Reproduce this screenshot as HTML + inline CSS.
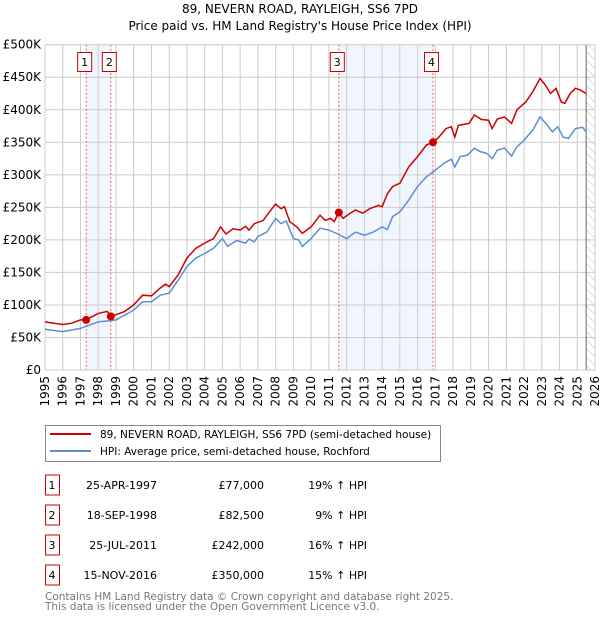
<!DOCTYPE html>
<html><head><meta charset="utf-8">
<style>
body{margin:0;background:#fff;font-family:"DejaVu Sans","Liberation Sans",sans-serif;}
svg text{font-family:"DejaVu Sans","Liberation Sans",sans-serif;}
</style></head>
<body>
<svg id="chart" width="600" height="620" viewBox="0 0 600 620" xmlns="http://www.w3.org/2000/svg">
<defs>
<pattern id="hatch" patternUnits="userSpaceOnUse" width="6" height="6" patternTransform="rotate(-45)">
<line x1="0" y1="0" x2="0" y2="6" stroke="#bbb" stroke-width="1"/>
</pattern>
</defs>
<text x="300" y="13" text-anchor="middle" font-size="12">89, NEVERN ROAD, RAYLEIGH, SS6 7PD</text>
<text x="300" y="30" text-anchor="middle" font-size="12">Price paid vs. HM Land Registry's House Price Index (HPI)</text>
<g id="plot"></g>
<g>
<rect x="45.5" y="425.5" width="395" height="36" fill="#fff" stroke="#888"/>
<line x1="50" y1="434" x2="91" y2="434" stroke="#cc0000" stroke-width="2"/>
<text x="100" y="438" font-size="10.5">89, NEVERN ROAD, RAYLEIGH, SS6 7PD (semi-detached house)</text>
<line x1="50" y1="451" x2="91" y2="451" stroke="#5b8fd0" stroke-width="2"/>
<text x="100" y="455" font-size="10.5">HPI: Average price, semi-detached house, Rochford</text>
</g>
<g id="table" font-size="11"></g>
<text x="45" y="600" font-size="10.5" fill="#777">Contains HM Land Registry data © Crown copyright and database right 2025.</text>
<text x="45" y="610" font-size="10.5" fill="#777">This data is licensed under the Open Government Licence v3.0.</text>
</svg>
<script>
const hpiYears=[1995,1996,1997,1997.5,1998,1998.7,1999,2000,2000.5,2001,2001.5,2002,2002.5,2003,2003.5,2004,2004.5,2005,2005.3,2005.8,2006.3,2006.5,2006.8,2007,2007.5,2008,2008.3,2008.6,2009,2009.3,2009.5,2010,2010.5,2011,2011.5,2012,2012.5,2013,2013.5,2014,2014.3,2014.6,2015,2015.5,2016,2016.5,2016.9,2017.5,2017.9,2018.1,2018.4,2018.8,2019.2,2019.5,2019.9,2020.2,2020.5,2020.9,2021.3,2021.6,2022,2022.5,2022.9,2023.3,2023.6,2023.9,2024.2,2024.5,2024.9,2025.3,2025.5];
const hpiValues=[62.5,59,64,69,74,76,77,92,105,105,115,118,138,159,172,179,187,202,190,199,195,201,197,205,212,233,225,229,202,200,190,202,218,215,209,202,212,207,212,220,216,236,243,261,282,297,305,318,324,312,328,330,341,336,333,325,338,341,329,343,353,369,389,377,366,374,358,356,371,373,366];
const priceYears=[1995,1995.5,1996,1996.5,1997,1997.3,1998,1998.5,1998.7,1999,1999.5,2000,2000.5,2001,2001.5,2001.8,2002,2002.5,2003,2003.5,2004,2004.5,2004.9,2005.2,2005.6,2006,2006.3,2006.5,2006.8,2007.3,2007.6,2008,2008.3,2008.5,2008.8,2009.2,2009.5,2010,2010.5,2010.8,2011.1,2011.3,2011.55,2011.8,2012.2,2012.5,2012.9,2013.3,2013.8,2014,2014.3,2014.6,2015,2015.5,2016,2016.5,2016.87,2017.2,2017.6,2017.9,2018.1,2018.3,2018.9,2019.2,2019.6,2020,2020.2,2020.5,2020.9,2021.3,2021.6,2022.1,2022.5,2022.9,2023.2,2023.5,2023.8,2024.1,2024.3,2024.6,2024.9,2025.2,2025.5];
const priceValues=[74,72,70,72,77,77,87,90,83.5,85,90,100,115,114,126,132,128,146,172,187,195,202,220,209,217,215,221,215,225,230,241,255,248,251,228,220,210,220,238,230,233,228,242,233,241,246,241,248,253,251,271,282,287,312,328,346,350,358,371,374,358,376,379,392,385,384,371,386,389,379,400,412,428,448,438,425,433,412,410,425,433,430,425];
const saleLabels=["1","2","3","4"];
const saleYears=[1997.32,1998.71,2011.56,2016.87];
const saleValues=[77,82.5,242,350];
const saleDates=["25-APR-1997","18-SEP-1998","25-JUL-2011","15-NOV-2016"];
const salePrices=["£77,000","£82,500","£242,000","£350,000"];
const saleHpi=["19% ↑ HPI","9% ↑ HPI","16% ↑ HPI","15% ↑ HPI"];
const yTicks=[0,50,100,150,200,250,300,350,400,450,500];
const yTickLabels=["£0","£50K","£100K","£150K","£200K","£250K","£300K","£350K","£400K","£450K","£500K"];
const xTicks=[1995,1996,1997,1998,1999,2000,2001,2002,2003,2004,2005,2006,2007,2008,2009,2010,2011,2012,2013,2014,2015,2016,2017,2018,2019,2020,2021,2022,2023,2024,2025,2026];
const dataEnd=2025.5;

const X0=45,X1=595,Y0=370,Y1=44.7;
const xs=y=>X0+(y-1995)/(2026-1995)*(X1-X0);
const ys=v=>Y0-v/500*(Y0-Y1);
const NS="http://www.w3.org/2000/svg";
const plot=document.getElementById('plot');
function mk(tag,attrs,parent){const e=document.createElementNS(NS,tag);for(const k in attrs)e.setAttribute(k,attrs[k]);(parent||plot).appendChild(e);return e;}

for(let i=0;i<saleYears.length;i+=2){
  const r=mk('rect',{x:xs(saleYears[i]),y:Y1,width:xs(saleYears[i+1])-xs(saleYears[i]),height:Y0-Y1,fill:'#eef3fc',opacity:0.8});
  
  
}
const h=mk('rect',{x:xs(dataEnd),y:Y1,width:X1-xs(dataEnd),height:Y0-Y1,fill:'url(#hatch)'});


yTicks.forEach((t,i)=>{
  const l=mk('line',{x1:X0,x2:X1,y1:ys(t),y2:ys(t),stroke:'#ccc','stroke-width':1});
  
  
  const tx=mk('text',{x:X0-4,y:ys(t)+4,'text-anchor':'end','font-size':12});
  tx.textContent=yTickLabels[i];
  
  
});
xTicks.forEach(t=>{
  const l=mk('line',{x1:xs(t),x2:xs(t),y1:Y1,y2:Y0,stroke:'#ccc','stroke-width':1});
  
  
  const tx=mk('text',{x:0,y:0,'text-anchor':'end','font-size':12,transform:`translate(${xs(t)+4},${Y0+6}) rotate(-90)`});
  tx.textContent=t;
  
  
});
const de=mk('line',{x1:xs(dataEnd),x2:xs(dataEnd),y1:Y1,y2:Y0,stroke:'#666','stroke-width':1});


saleYears.forEach(y=>{
  const l=mk('line',{x1:xs(y),x2:xs(y),y1:Y1,y2:Y0,stroke:'#f06060','stroke-width':1,'stroke-dasharray':'2,2'});
  
  
});
const pts=(xa,va)=>xa.map((x,i)=>xs(x).toFixed(1)+','+ys(va[i]).toFixed(1)).join(' ');
const hl=mk('polyline',{points:pts(hpiYears,hpiValues),fill:'none',stroke:'#5b8fd0','stroke-width':1.5});


const pl=mk('polyline',{points:pts(priceYears,priceValues),fill:'none',stroke:'#cc0000','stroke-width':1.5});


saleYears.forEach((y,i)=>{
  const c=mk('circle',{cx:xs(y),cy:ys(saleValues[i]),r:4,fill:'#cc0000'});
  
  
  const b=mk('rect',{x:xs(y)-8.5,y:52.5,width:14,height:19,fill:'#fff',stroke:'#cc0000'});
  
  
  const t=mk('text',{x:xs(y)-1.5,y:66,'text-anchor':'middle','font-size':11});
  t.textContent=saleLabels[i];
  
  
});
const tb=document.getElementById('table');
saleLabels.forEach((s,i)=>{
  const cy=485+i*30;
  const b=mk('rect',{x:45.5,y:cy-10,width:14,height:20,fill:'#fff',stroke:'#cc0000'},tb);
  
  
  const cells=[[52,'middle',s,'table-index'],[157,'end',saleDates[i],'table-date'],[264,'end',salePrices[i],'table-price'],[367,'end',saleHpi[i],'table-hpi']];
  cells.forEach(c=>{
    const t=mk('text',{x:c[0],y:cy+4,'text-anchor':c[1],'font-size':11},tb);
    t.textContent=c[2];
    
    
  });
});
</script>
</body></html>
